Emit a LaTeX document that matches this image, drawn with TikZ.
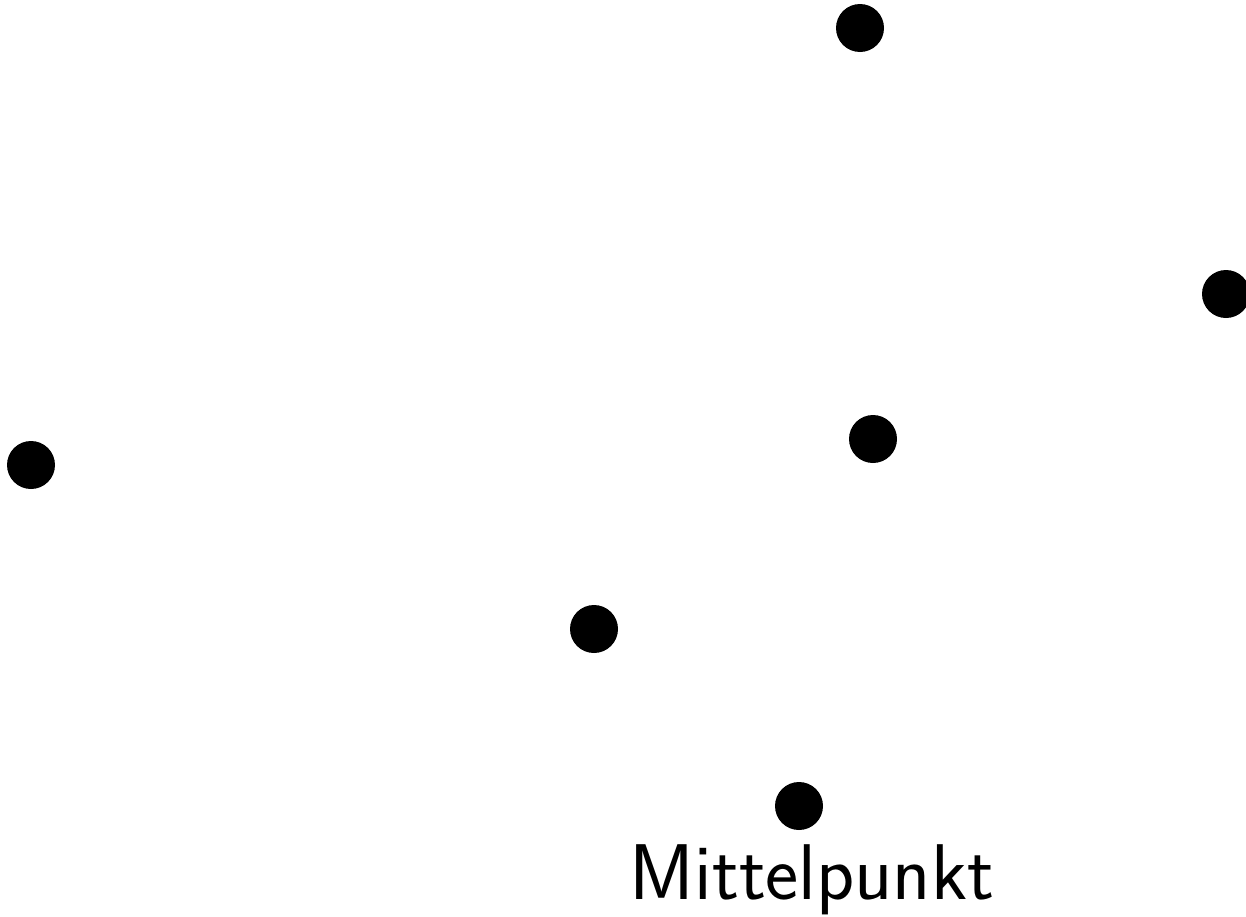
\documentclass[tikz,border=0pt]{standalone}
\begin{document}
\begin{tikzpicture}[x=1pt,y=-1pt,
  pt/.style={circle,fill=black,inner sep=0pt,minimum size=48pt},
  lbl/.style={font=\sffamily\fontsize{79}{95}\selectfont,inner sep=0pt,anchor=base}]
\useasboundingbox (0,0) rectangle (1246,916);
\node[pt] (a) at (860,28) {};
\node[pt] (b) at (1226,294) {};
\node[pt] (c) at (31,465) {};
\node[pt] (d) at (873,439) {};
\node[pt] (e) at (594,629) {};
\node[pt] (m) at (799,806) {};
\node[lbl] (t) at (812,899) {Mittelpunkt};
\end{tikzpicture}
\end{document}
